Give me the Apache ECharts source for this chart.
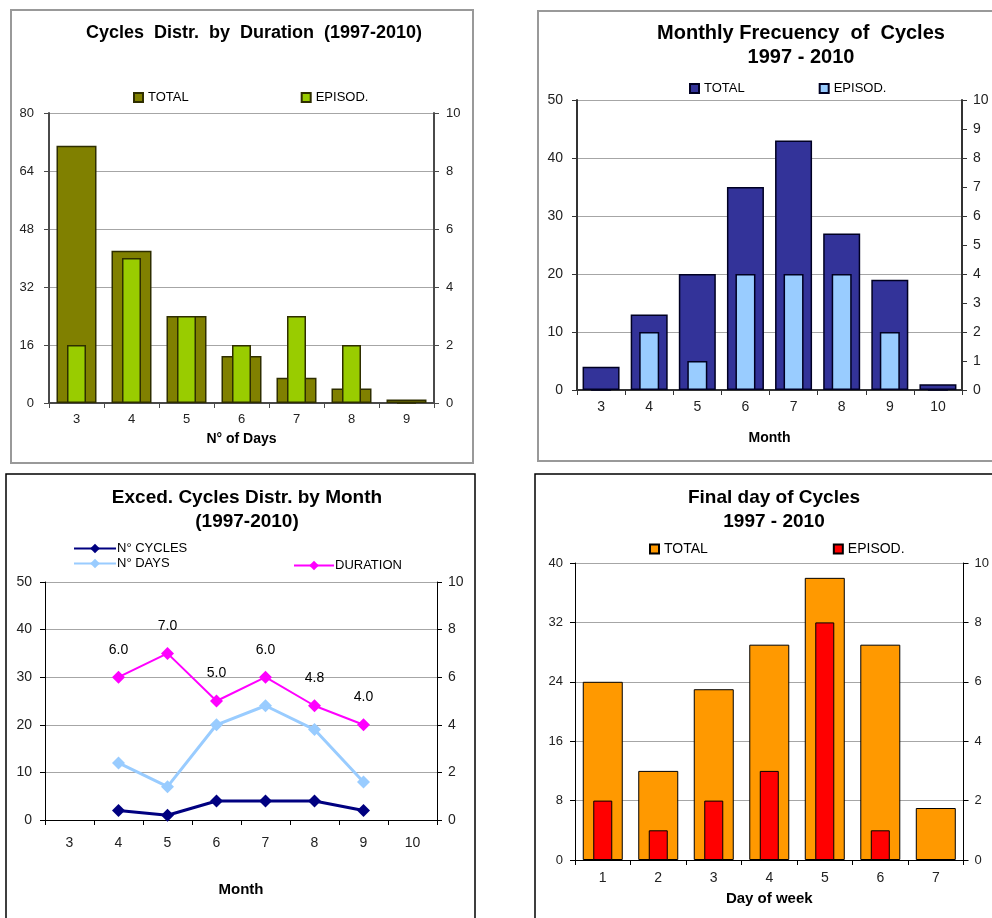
<!DOCTYPE html>
<html>
<head>
<meta charset="utf-8">
<script src="https://cdn.jsdelivr.net/npm/echarts@6/dist/echarts.min.js"></script>
<style>
  html, body { margin: 0; padding: 0; background: #fff; }
  body { width: 992px; height: 918px; position: relative; overflow: hidden; }
  .panel { position: absolute; }
</style>
</head>
<body>
<div id="p1" class="panel" style="left:0;top:0;width:496px;height:470px"></div>
<div id="p2" class="panel" style="left:496px;top:0;width:496px;height:470px"></div>
<div id="p3" class="panel" style="left:0;top:470px;width:496px;height:448px"></div>
<div id="p4" class="panel" style="left:496px;top:470px;width:496px;height:448px"></div>
<script>
// Cycles by duration (number of days)
const durCats = ['3', '4', '5', '6', '7', '8', '9'];
const durTotal = [71, 42, 24, 13, 7, 4, 1];
const durEpisod = [2, 5, 3, 2, 3, 2, 0];

// Monthly frequency
const monthCats = ['3', '4', '5', '6', '7', '8', '9', '10'];
const monthTotal = [4, 13, 20, 35, 43, 27, 19, 1];
const monthEpisod = [0, 2, 1, 4, 4, 4, 2, 0];

// Exceedance cycles by month
const excCats = ['3', '4', '5', '6', '7', '8', '9', '10'];
const excCycles = [null, 2, 1, 4, 4, 4, 2, null];
const excDays = [null, 12, 7, 20, 24, 19, 8, null];
const excDuration = [null, 6.0, 7.0, 5.0, 6.0, 4.8, 4.0, null];

// Final day of cycles
const dayCats = ['1', '2', '3', '4', '5', '6', '7'];
const dayTotal = [24, 12, 23, 29, 38, 29, 7];
const dayEpisod = [2, 1, 2, 3, 8, 1, 0];

const FONT = 'Liberation Sans, Arial, sans-serif';

function titleOpt(text, x, top, size) {
  return {
    text: text, left: x, top: top, textAlign: 'center',
    textStyle: { fontFamily: FONT, fontSize: size, fontWeight: 'bold', color: '#000', lineHeight: 24 }
  };
}

function frame(x, y, w, h, color, lw) {
  return [{ type: 'rect', silent: true, z: -1,
    shape: { x: x, y: y, width: w, height: h },
    style: { fill: 'none', stroke: color, lineWidth: lw } }];
}

function catAxis(data, opts) {
  return {
    type: 'category', data: data, boundaryGap: true,
    axisLine: { lineStyle: { color: opts.axisColor, width: opts.axisWidth } },
    axisTick: { show: true, length: 5, lineStyle: { color: opts.axisColor } },
    axisLabel: { color: '#222', fontFamily: FONT, fontSize: opts.fs, margin: opts.labelMargin },
    name: opts.name, nameLocation: 'middle', nameGap: opts.nameGap,
    nameTextStyle: { fontFamily: FONT, fontSize: opts.nameSize, fontWeight: 'bold', color: '#000' }
  };
}

function hiddenCat(data) {
  return { type: 'category', data: data, show: false, boundaryGap: true };
}

function valAxis(max, interval, pos, opts, grid) {
  return {
    type: 'value', min: 0, max: max, interval: interval, position: pos,
    axisLine: { show: true, lineStyle: { color: opts.axisColor, width: opts.axisWidth } },
    axisTick: { show: true, length: 5, lineStyle: { color: opts.axisColor } },
    axisLabel: { color: '#222', fontFamily: FONT, fontSize: opts.fs, margin: pos === 'left' ? opts.lm : opts.rm },
    splitLine: { show: grid, lineStyle: { color: '#a6a6a6', width: 1.2 } }
  };
}

function barLegend(left, top, gap, names, fs) {
  return {
    left: left, top: top, itemGap: gap, itemWidth: 9, itemHeight: 9, icon: 'rect',
    data: names, selectedMode: false,
    textStyle: { fontFamily: FONT, fontSize: fs, color: '#000' }
  };
}

// Panel 1: distribution by duration
const c1 = echarts.init(document.getElementById('p1'));
const o1 = { axisColor: '#4a4a4a', axisWidth: 2, fs: 13, lm: 15, rm: 12 };
c1.setOption({
  animation: false,
  title: titleOpt('Cycles  Distr.  by  Duration  (1997-2010)', 249, 16, 18),
  graphic: frame(11, 10, 462, 453, '#999', 2),
  legend: barLegend(128, 86, 112, ['TOTAL', 'EPISOD.'], 13),
  grid: { left: 49, right: 62, top: 113, bottom: 67 },
  xAxis: [
    catAxis(durCats, { axisColor: '#4a4a4a', axisWidth: 2, fs: 13, labelMargin: 10, name: 'N° of Days', nameGap: 29, nameSize: 14 }),
    hiddenCat(durCats)
  ],
  yAxis: [valAxis(80, 16, 'left', o1, true), valAxis(10, 2, 'right', o1, false)],
  series: [
    { name: 'TOTAL', type: 'bar', xAxisIndex: 0, yAxisIndex: 0, data: durTotal, barWidth: 40,
      itemStyle: { color: '#808000', borderColor: '#2e2e00', borderWidth: 1.5 } },
    { name: 'EPISOD.', type: 'bar', xAxisIndex: 1, yAxisIndex: 1, data: durEpisod, barWidth: 19,
      itemStyle: { color: '#99CC00', borderColor: '#2e2e00', borderWidth: 1.5 } }
  ]
});

// Panel 2: monthly frequency
const c2 = echarts.init(document.getElementById('p2'));
const o2 = { axisColor: '#333', axisWidth: 2, fs: 14, lm: 14, rm: 11 };
c2.setOption({
  animation: false,
  title: titleOpt('Monthly Frecuency  of  Cycles\n1997 - 2010', 300, 16, 20),
  graphic: frame(42, 11, 470, 450, '#999', 2),
  legend: barLegend(188, 77, 74, ['TOTAL', 'EPISOD.'], 13),
  grid: { left: 81, right: 30, top: 100, bottom: 80 },
  xAxis: [
    catAxis(monthCats, { axisColor: '#333', axisWidth: 2, fs: 14, labelMargin: 10, name: 'Month', nameGap: 41, nameSize: 14 }),
    hiddenCat(monthCats)
  ],
  yAxis: [valAxis(50, 10, 'left', o2, true), valAxis(10, 1, 'right', o2, false)],
  series: [
    { name: 'TOTAL', type: 'bar', xAxisIndex: 0, yAxisIndex: 0, data: monthTotal, barWidth: 37,
      itemStyle: { color: '#333399', borderColor: '#000022', borderWidth: 1.5 } },
    { name: 'EPISOD.', type: 'bar', xAxisIndex: 1, yAxisIndex: 1, data: monthEpisod, barWidth: 20,
      itemStyle: { color: '#99CCFF', borderColor: '#000022', borderWidth: 1.5 } }
  ]
});

// Panel 3: exceedance cycles by month
const c3 = echarts.init(document.getElementById('p3'));
const o3 = { axisColor: '#000', axisWidth: 1, fs: 14, lm: 13, rm: 11 };
const lineLegendText = { fontFamily: FONT, fontSize: 13, color: '#000', padding: [0, 0, 0, -4] };
c3.setOption({
  animation: false,
  title: titleOpt('Exced. Cycles Distr. by Month\n(1997-2010)', 242, 11, 19),
  graphic: frame(6, 4, 469, 460, '#000', 1.5),
  legend: [
    { left: 68, top: 67, orient: 'vertical', itemGap: 2, itemWidth: 42, itemHeight: 12,
      data: ['N° CYCLES', 'N° DAYS'], selectedMode: false, textStyle: lineLegendText },
    { left: 288, top: 84, itemWidth: 40, itemHeight: 12,
      data: ['DURATION'], selectedMode: false, textStyle: lineLegendText }
  ],
  grid: { left: 45, right: 59, top: 112, bottom: 98 },
  xAxis: [
    catAxis(excCats, { axisColor: '#000', axisWidth: 1, fs: 14, labelMargin: 16, name: 'Month', nameGap: 62, nameSize: 15 })
  ],
  yAxis: [valAxis(50, 10, 'left', o3, true), valAxis(10, 2, 'right', o3, false)],
  series: [
    { name: 'N° CYCLES', type: 'line', yAxisIndex: 0, data: excCycles, symbol: 'diamond', symbolSize: 13,
      lineStyle: { color: '#000080', width: 3 }, itemStyle: { color: '#000080' } },
    { name: 'N° DAYS', type: 'line', yAxisIndex: 0, data: excDays, symbol: 'diamond', symbolSize: 13,
      lineStyle: { color: '#99CCFF', width: 3 }, itemStyle: { color: '#99CCFF' } },
    { name: 'DURATION', type: 'line', yAxisIndex: 1, data: excDuration, symbol: 'diamond', symbolSize: 13,
      lineStyle: { color: '#FF00FF', width: 2 }, itemStyle: { color: '#FF00FF' },
      label: { show: true, position: 'top', distance: 14, fontFamily: FONT, fontSize: 14, color: '#000',
        formatter: p => p.value.toFixed(1) } }
  ]
});

// Panel 4: final day of cycles
const c4 = echarts.init(document.getElementById('p4'));
const o4 = { axisColor: '#000', axisWidth: 1, fs: 13, lm: 12, rm: 11 };
c4.setOption({
  animation: false,
  title: titleOpt('Final day of Cycles\n1997 - 2010', 273, 11, 19),
  graphic: frame(39, 4, 470, 460, '#000', 1.5),
  legend: barLegend(148, 67, 125, ['TOTAL', 'EPISOD.'], 14),
  grid: { left: 79, right: 26, top: 93, bottom: 58 },
  xAxis: [
    catAxis(dayCats, { axisColor: '#000', axisWidth: 1, fs: 14, labelMargin: 11, name: 'Day of week', nameGap: 31, nameSize: 15 }),
    hiddenCat(dayCats)
  ],
  yAxis: [valAxis(40, 8, 'left', o4, true), valAxis(10, 2, 'right', o4, false)],
  series: [
    { name: 'TOTAL', type: 'bar', xAxisIndex: 0, yAxisIndex: 0, data: dayTotal, barWidth: 40,
      itemStyle: { color: '#FF9900', borderColor: '#000', borderWidth: 1 } },
    { name: 'EPISOD.', type: 'bar', xAxisIndex: 1, yAxisIndex: 1, data: dayEpisod, barWidth: 19,
      itemStyle: { color: '#FF0000', borderColor: '#000', borderWidth: 1 } }
  ]
});
</script>
</body>
</html>
